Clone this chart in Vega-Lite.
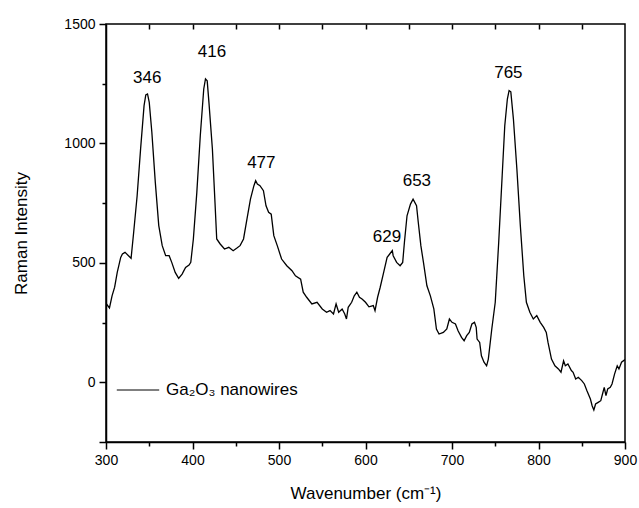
{
  "$schema": "https://vega.github.io/schema/vega-lite/v6.json",
  "autosize": "none",
  "width": 519,
  "height": 418,
  "padding": {"left": 106, "top": 24, "right": 14, "bottom": 66},
  "background": "white",
  "config": {
    "font": "Liberation Sans",
    "view": {"stroke": "black", "strokeWidth": 1.5},
    "axis": {"grid": false, "domainColor": "black", "tickColor": "black", "labelColor": "black", "titleColor": "black", "labelFont": "Liberation Sans", "titleFont": "Liberation Sans", "titleFontWeight": "normal", "domainWidth": 1.5, "tickWidth": 1.5}
  },
  "datasets": {
    "spectrum": [
      {"x":299,"y":335},{"x":304,"y":311},{"x":307,"y":362},{"x":310,"y":398},{"x":313,"y":460},{"x":317,"y":523},{"x":319,"y":537},{"x":322,"y":544},{"x":326,"y":530},{"x":329,"y":519},{"x":332,"y":628},{"x":336,"y":781},{"x":340,"y":977},{"x":344,"y":1158},{"x":346,"y":1203},{"x":348,"y":1207},{"x":350,"y":1172},{"x":353,"y":1047},{"x":357,"y":837},{"x":361,"y":656},{"x":365,"y":572},{"x":369,"y":530},{"x":373,"y":530},{"x":376,"y":502},{"x":380,"y":460},{"x":384,"y":435},{"x":388,"y":453},{"x":392,"y":481},{"x":396,"y":491},{"x":398,"y":502},{"x":401,"y":600},{"x":405,"y":795},{"x":409,"y":1032},{"x":413,"y":1228},{"x":415,"y":1270},{"x":417,"y":1262},{"x":419,"y":1172},{"x":423,"y":977},{"x":426,"y":753},{"x":428,"y":600},{"x":432,"y":579},{"x":437,"y":558},{"x":442,"y":565},{"x":447,"y":551},{"x":451,"y":561},{"x":455,"y":572},{"x":459,"y":600},{"x":463,"y":684},{"x":467,"y":767},{"x":471,"y":823},{"x":473,"y":844},{"x":475,"y":830},{"x":478,"y":823},{"x":482,"y":802},{"x":485,"y":739},{"x":488,"y":712},{"x":491,"y":704},{"x":494,"y":614},{"x":498,"y":572},{"x":503,"y":516},{"x":509,"y":488},{"x":515,"y":467},{"x":519,"y":446},{"x":525,"y":432},{"x":528,"y":377},{"x":532,"y":356},{"x":538,"y":328},{"x":544,"y":335},{"x":550,"y":307},{"x":555,"y":293},{"x":559,"y":300},{"x":563,"y":286},{"x":566,"y":328},{"x":569,"y":293},{"x":573,"y":307},{"x":576,"y":286},{"x":578,"y":265},{"x":580,"y":314},{"x":584,"y":335},{"x":587,"y":362},{"x":590,"y":377},{"x":593,"y":356},{"x":596,"y":349},{"x":600,"y":335},{"x":604,"y":316},{"x":609,"y":321},{"x":611,"y":300},{"x":614,"y":356},{"x":617,"y":398},{"x":621,"y":460},{"x":625,"y":523},{"x":628,"y":537},{"x":631,"y":551},{"x":632,"y":530},{"x":636,"y":502},{"x":640,"y":488},{"x":643,"y":502},{"x":645,"y":586},{"x":648,"y":697},{"x":652,"y":746},{"x":655,"y":767},{"x":659,"y":739},{"x":661,"y":670},{"x":664,"y":572},{"x":667,"y":502},{"x":671,"y":404},{"x":675,"y":362},{"x":679,"y":307},{"x":682,"y":223},{"x":685,"y":202},{"x":690,"y":209},{"x":694,"y":223},{"x":697,"y":265},{"x":700,"y":251},{"x":704,"y":244},{"x":707,"y":216},{"x":711,"y":188},{"x":714,"y":174},{"x":717,"y":195},{"x":720,"y":209},{"x":723,"y":244},{"x":726,"y":251},{"x":728,"y":230},{"x":729,"y":181},{"x":732,"y":167},{"x":734,"y":111},{"x":737,"y":84},{"x":740,"y":69},{"x":742,"y":97},{"x":746,"y":223},{"x":750,"y":335},{"x":754,"y":586},{"x":758,"y":865},{"x":761,"y":1074},{"x":764,"y":1186},{"x":766,"y":1221},{"x":768,"y":1216},{"x":771,"y":1102},{"x":775,"y":893},{"x":779,"y":656},{"x":783,"y":446},{"x":786,"y":335},{"x":790,"y":293},{"x":794,"y":265},{"x":798,"y":279},{"x":802,"y":251},{"x":806,"y":230},{"x":809,"y":209},{"x":811,"y":167},{"x":815,"y":97},{"x":819,"y":69},{"x":823,"y":56},{"x":826,"y":42},{"x":829,"y":90},{"x":831,"y":69},{"x":834,"y":77},{"x":838,"y":49},{"x":840,"y":42},{"x":843,"y":14},{"x":846,"y":21},{"x":850,"y":7},{"x":853,"y":-7},{"x":856,"y":-35},{"x":860,"y":-70},{"x":862,"y":-98},{"x":864,"y":-116},{"x":866,"y":-91},{"x":869,"y":-84},{"x":872,"y":-77},{"x":874,"y":-49},{"x":876,"y":-21},{"x":878,"y":-56},{"x":880,"y":-28},{"x":883,"y":-21},{"x":885,"y":-7},{"x":888,"y":35},{"x":891,"y":69},{"x":893,"y":56},{"x":896,"y":84},{"x":900,"y":95}
    ],
    "peaks": [
      {"x":347.6,"y":1273,"label":"346"},
      {"x":422.6,"y":1384,"label":"416"},
      {"x":479.6,"y":917,"label":"477"},
      {"x":624.8,"y":610,"label":"629"},
      {"x":659.4,"y":843,"label":"653"},
      {"x":765.2,"y":1294,"label":"765"}
    ]
  },
  "resolve": {"scale": {"x": "independent", "y": "independent"}, "axis": {"x": "independent", "y": "independent"}},
  "layer": [
    {
      "data": {"name": "spectrum"},
      "mark": {"type": "line", "strokeWidth": 1.3, "clip": true},
      "encoding": {
        "x": {"field": "x", "type": "quantitative", "scale": {"domain": [300, 900], "nice": false, "zero": false},
              "axis": {"orient": "bottom", "values": [300,350,400,450,500,550,600,650,700,750,800,850,900],
                       "labelExpr": "datum.value % 100 === 0 ? datum.label : ''",
                       "tickSize": {"condition": {"test": "datum.value % 100 === 0", "value": 7}, "value": 4},
                       "labelFontSize": 14, "labelPadding": 4, "title": "Wavenumber (cm⁻¹)", "titleFontSize": 17, "titlePadding": 18, "labelFlush": false}},
        "y": {"field": "y", "type": "quantitative", "scale": {"domain": [-250, 1500], "nice": false, "zero": false},
              "axis": {"orient": "left", "values": [-250,0,250,500,750,1000,1250,1500], "format": "d",
                       "labelExpr": "datum.value % 500 === 0 ? datum.label : ''",
                       "tickSize": {"condition": {"test": "datum.value % 500 === 0 || datum.value === -250", "value": 7}, "value": 4},
                       "labelFontSize": 14, "labelPadding": 4, "title": "Raman Intensity", "titleFontSize": 17, "titlePadding": 33}},
        "color": {"datum": "Ga₂O₃ nanowires", "scale": {"range": ["black"]},
                  "legend": {"title": null, "orient": "none", "legendX": 10, "legendY": 344, "symbolType": "stroke", "symbolSize": 1800, "symbolStrokeWidth": 1, "labelFontSize": 17, "labelFont": "Liberation Sans", "labelColor": "black", "labelOffset": 6, "padding": 0}}
      }
    },
    {
      "data": {"name": "peaks"},
      "mark": {"type": "text", "fontSize": 17, "font": "Liberation Sans", "color": "black", "baseline": "middle", "align": "center"},
      "encoding": {
        "x": {"field": "x", "type": "quantitative", "scale": {"domain": [300, 900], "nice": false, "zero": false},
              "axis": {"orient": "top", "values": [350,400,450,500,550,600,650,700,750,800,850], "tickSize": 5, "offset": -5, "labels": false, "domain": false, "title": null}},
        "y": {"field": "y", "type": "quantitative", "scale": {"domain": [-250, 1500], "nice": false, "zero": false}, "axis": null},
        "text": {"field": "label"}
      }
    }
  ]
}
